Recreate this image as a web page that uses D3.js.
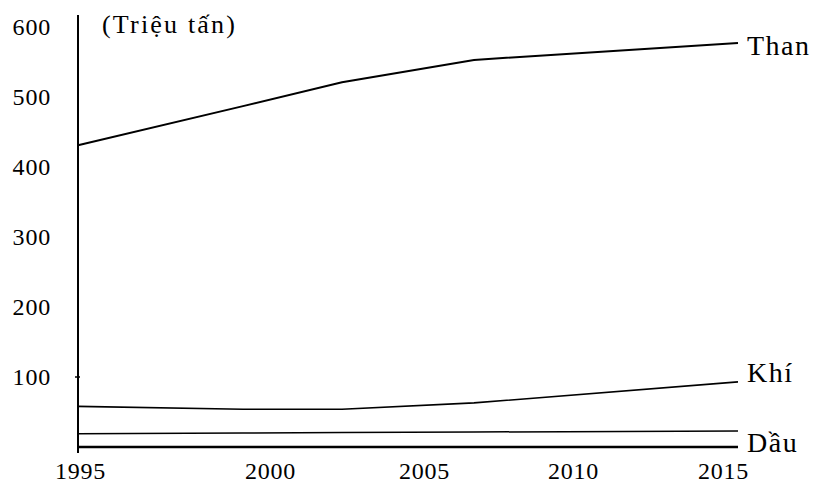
<!DOCTYPE html>
<html><head><meta charset="utf-8">
<script src="https://cdn.jsdelivr.net/npm/d3@7"></script>
<style>
html,body{margin:0;padding:0;background:#fff;}
</style></head>
<body>
<svg id="chart" width="814" height="483"></svg>
<script>
const years = [1995, 2000, 2005, 2010, 2015];
const yTicks = [100, 200, 300, 400, 500, 600];
const dataYears = [1995, 2000, 2003, 2007, 2015];
const than = [431, 487, 521, 553, 577];
const khi = [58, 54, 54, 63, 93];
const dau = [19, 20, 20.6, 21.4, 23];
const seriesNames = ["Than", "Khí", "Dầu"];
const unitLabel = "(Triệu tấn)";

const FONT = "'Liberation Serif', 'Times New Roman', Times, serif";
const svg = d3.select("#chart");
const x = d3.scaleLinear().domain([1995, 2015]).range([78, 738]);
const y = d3.scaleLinear().domain([0, 600]).range([447, 27]);

const xLabelShift = [2, 27, 16, 0, -15];

svg.append("line").attr("x1", 78).attr("x2", 78).attr("y1", 15).attr("y2", 453)
  .attr("stroke", "#000").attr("stroke-width", 2);
svg.append("line").attr("x1", 77).attr("x2", x(2015)).attr("y1", y(0)).attr("y2", y(0))
  .attr("stroke", "#000").attr("stroke-width", 2.5);

const yAxis = svg.append("g").attr("transform", "translate(51,0)")
  .call(d3.axisLeft(y).tickValues(yTicks).tickSize(0).tickPadding(0));
yAxis.attr("font-family", FONT).attr("font-size", 24);
yAxis.select(".domain").remove();
yAxis.selectAll("text").style("font-family", FONT).style("font-size", "24px")
  .style("letter-spacing", "0.8px").attr("dy", "0.33em");

const xAxis = svg.append("g").attr("transform", "translate(0," + y(0) + ")")
  .call(d3.axisBottom(x).tickValues(years).tickFormat(d3.format("d")).tickSize(0).tickPadding(0));
xAxis.attr("font-family", FONT).attr("font-size", 24);
xAxis.select(".domain").remove();
xAxis.selectAll("text").style("font-family", FONT).style("font-size", "24px")
  .style("letter-spacing", "0.8px")
  .attr("y", 32).attr("dy", null)
  .attr("dx", (d, i) => xLabelShift[i]);

svg.append("line").attr("x1", 75).attr("x2", 80).attr("y1", y(100)).attr("y2", y(100))
  .attr("stroke", "#000").attr("stroke-width", 1.5);

svg.append("text").attr("x", 102).attr("y", 33)
  .style("font-family", FONT).style("font-size", "26px").style("letter-spacing", "2.2px")
  .text(unitLabel);

const line = d3.line().x((d, i) => x(dataYears[i])).y(d => y(d));
const series = [than, khi, dau];
const widths = [2, 1.6, 1.5];
series.forEach((s, k) => {
  svg.append("path").datum(s).attr("d", line).attr("fill", "none")
    .attr("stroke", "#000").attr("stroke-width", widths[k]);
});

const labelY = [55, 382, 452];
seriesNames.forEach((n, k) => {
  svg.append("text").attr("x", 747).attr("y", labelY[k])
    .style("font-family", FONT).style("font-size", "28px").style("letter-spacing", "1.5px").text(n);
});
</script>
</body></html>
